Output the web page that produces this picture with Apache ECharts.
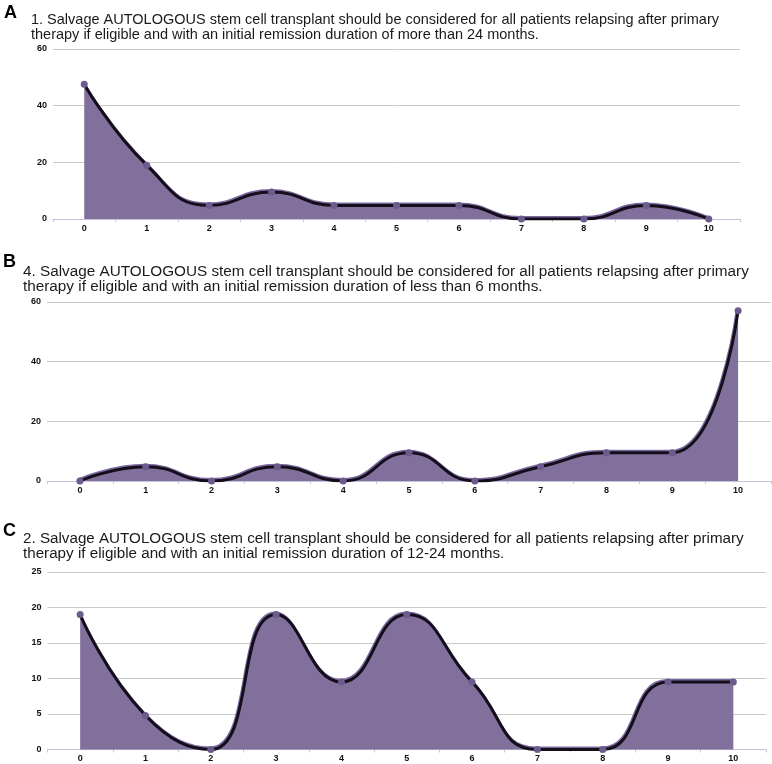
<!DOCTYPE html>
<html>
<head>
<meta charset="utf-8">
<script src="https://cdn.jsdelivr.net/npm/echarts@6/dist/echarts.min.js"></script>
<style>html,body{margin:0;padding:0;background:#fff}#c{width:772px;height:764px}</style>
</head>
<body>
<div id="c"></div>
<script>
var categories = ['0','1','2','3','4','5','6','7','8','9','10'];
var panelLetters = ['A','B','C'];
var titles = [
  '1. Salvage AUTOLOGOUS stem cell transplant should be considered for all patients relapsing after primary\ntherapy if eligible and with an initial remission duration of more than 24 months.',
  '4. Salvage AUTOLOGOUS stem cell transplant should be considered for all patients relapsing after primary\ntherapy if eligible and with an initial remission duration of less than 6 months.',
  '2. Salvage AUTOLOGOUS stem cell transplant should be considered for all patients relapsing after primary\ntherapy if eligible and with an initial remission duration of 12-24 months.'
];
var valuesA = [47.6, 19.0, 4.8, 9.5, 4.8, 4.8, 4.8, 0, 0, 4.8, 0];
var valuesB = [0, 4.8, 0, 4.8, 0, 9.5, 0, 4.8, 9.5, 9.5, 57.1];
var valuesC = [19.0, 4.8, 0, 19.0, 9.5, 19.0, 9.5, 0, 0, 9.5, 9.5];
var yMax = [60, 60, 25];
var yInterval = [20, 20, 5];

var FONT = "'Liberation Sans', Arial, sans-serif";
var grids = [
  {left: 53, top: 49, width: 687, height: 170},
  {left: 47, top: 302, width: 724, height: 179},
  {left: 47.5, top: 572, width: 718.5, height: 177.5}
];
var titlePos = [
  {left: 31, top: 12, size: 14.5},
  {left: 23, top: 264, size: 15.3},
  {left: 23, top: 531, size: 15.2}
];
var letterPos = [{left: 4, top: 4}, {left: 3, top: 253}, {left: 3, top: 522}];
var allValues = [valuesA, valuesB, valuesC];

var chart = echarts.init(document.getElementById('c'), null, {renderer: 'canvas'});
var option = {
  backgroundColor: '#ffffff',
  animation: false,
  title: [],
  grid: grids,
  xAxis: [],
  yAxis: [],
  series: []
};
for (var i = 0; i < 3; i++) {
  option.title.push({
    text: titles[i], left: titlePos[i].left, top: titlePos[i].top, padding: 0,
    textStyle: {fontFamily: FONT, fontSize: titlePos[i].size, fontWeight: 'normal', color: '#1a1a1a', lineHeight: 15}
  });
  option.title.push({
    text: panelLetters[i], left: letterPos[i].left, top: letterPos[i].top, padding: 0,
    textStyle: {fontFamily: FONT, fontSize: 18, fontWeight: 'bold', color: '#000'}
  });
  option.xAxis.push({
    type: 'category', gridIndex: i, data: categories, boundaryGap: true,
    axisLine: {lineStyle: {color: '#c4c2dc', width: 1}},
    axisTick: {show: true, length: 3, lineStyle: {color: '#c8c8c8'}},
    axisLabel: {fontFamily: FONT, fontSize: 9, fontWeight: 'bold', color: '#111', margin: 5}
  });
  option.yAxis.push({
    type: 'value', gridIndex: i, min: 0, max: yMax[i], interval: yInterval[i],
    axisLine: {show: false}, axisTick: {show: false},
    splitLine: {lineStyle: {color: '#c9c9c9', width: 1}},
    axisLabel: {fontFamily: FONT, fontSize: 9, fontWeight: 'bold', color: '#111', margin: 6}
  });
  option.series.push({
    type: 'line', xAxisIndex: i, yAxisIndex: i, data: allValues[i],
    smooth: 0.5,
    symbol: 'circle', symbolSize: 7,
    itemStyle: {color: '#6d5b8e'},
    lineStyle: {color: '#140d1a', width: 3, shadowColor: '#7a68a0', shadowBlur: 0, shadowOffsetX: -0.8, shadowOffsetY: -1.5},
    areaStyle: {color: '#80709b', opacity: 1},
    z: 3
  });
}
chart.setOption(option);
</script>
</body>
</html>
